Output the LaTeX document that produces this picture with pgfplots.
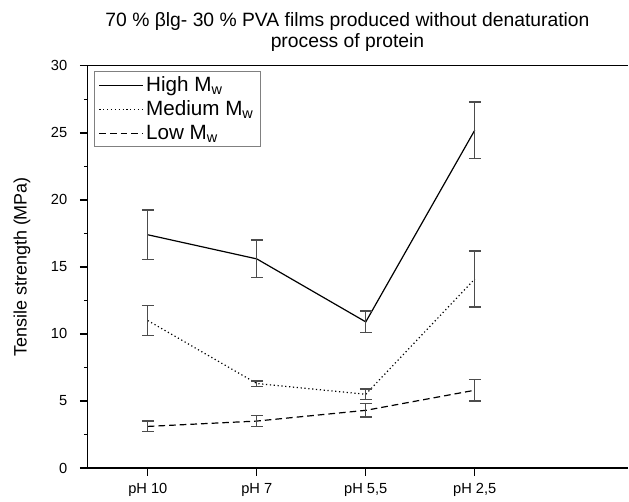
\documentclass[border=0pt]{standalone}
\usepackage{fontspec}
\setmainfont{Liberation Sans}
\usepackage{pgfplots}
\usepackage{pgfplotstable}
\pgfplotsset{compat=1.18}

% x: 0 = pH 10, 1 = pH 7, 2 = pH 5,5, 3 = pH 2,5
\pgfplotstableread{
x y ey
0 17.4 1.85
1 15.6 1.4
2 10.9 0.8
3 25.2 2.1
}\highdata
\pgfplotstableread{
x y ey
0 11.0 1.1
1 6.3 0.2
2 5.5 0.4
3 14.1 2.1
}\meddata
\pgfplotstableread{
x y ey
0 3.1 0.4
1 3.5 0.4
2 4.3 0.5
3 5.8 0.8
}\lowdata

\pgfplotsset{
    ebar/.style={error bars/.cd, y dir=both, y explicit,
        error bar style={gray!60!black, line width=1pt, solid},
        error mark options={rotate=90, mark size=4.5pt, line width=1pt, gray!60!black}},
}

\begin{document}
\begin{tikzpicture}
\begin{axis}[
    scale only axis,
    width=406pt, height=302pt,
    xmin=-0.55, xmax=4.41,
    ymin=0, ymax=30,
    axis x line=bottom, axis y line=left,
    axis line style={-, line width=0.9pt},
    xtick={0,1,2,3},
    xticklabels={{pH 10}, {pH 7}, {pH 5,5}, {pH 2,5}},
    ytick={0,5,...,30},
    minor y tick num=1,
    tick align=outside,
    major tick length=6pt,
    minor tick length=3pt,
    every tick/.style={black, line width=0.9pt},
    /pgf/number format/assume math mode=true,
    tick label style={font=\fontsize{11}{13}\selectfont},
    yticklabel style={xshift=-6pt},
    xticklabel style={yshift=-2pt},
    ylabel={Tensile strength (MPa)},
    ylabel style={font=\fontsize{13.5}{15}\selectfont, yshift=8.5pt},
    title={70 \% βlg- 30 \% PVA films produced without denaturation\\process of protein},
    title style={align=center, font=\fontsize{14.5}{16}\selectfont, yshift=1pt, xshift=-8pt},
    legend style={at={(rel axis cs:0.012,0.988)}, anchor=north west,
        draw=gray, line width=0.8pt, font=\fontsize{15.5}{18}\selectfont,
        row sep=1.5pt, inner xsep=3pt, inner ysep=2pt},
    legend cell align=left,
    legend image code/.code={\draw[#1, line width=0.8pt] (0cm,0cm) -- (1.15cm,0cm);},
    clip=false,
]
\addplot[black, line width=0.9pt, solid, mark=none, ebar]
    table[x=x, y=y, y error=ey] {\highdata};
\addlegendentry{High M\textsubscript{w}}
\addplot[black, line width=0.9pt, dotted, mark=none, ebar]
    table[x=x, y=y, y error=ey] {\meddata};
\addlegendentry{Medium M\textsubscript{w}}
\addplot[black, line width=0.9pt, dash pattern=on 5pt off 3pt, mark=none, ebar]
    table[x=x, y=y, y error=ey] {\lowdata};
\addlegendentry{Low M\textsubscript{w}}
\draw[line width=0.9pt] (rel axis cs:0,1) -- (rel axis cs:1,1);
\end{axis}
% keep the white margins round the picture
\path (current axis.south west) -- ++(-66pt,0);
\path (current axis.north west) -- ++(0,49.5pt);
\path (current axis.south west) -- ++(0,-23pt);
\end{tikzpicture}
\end{document}
